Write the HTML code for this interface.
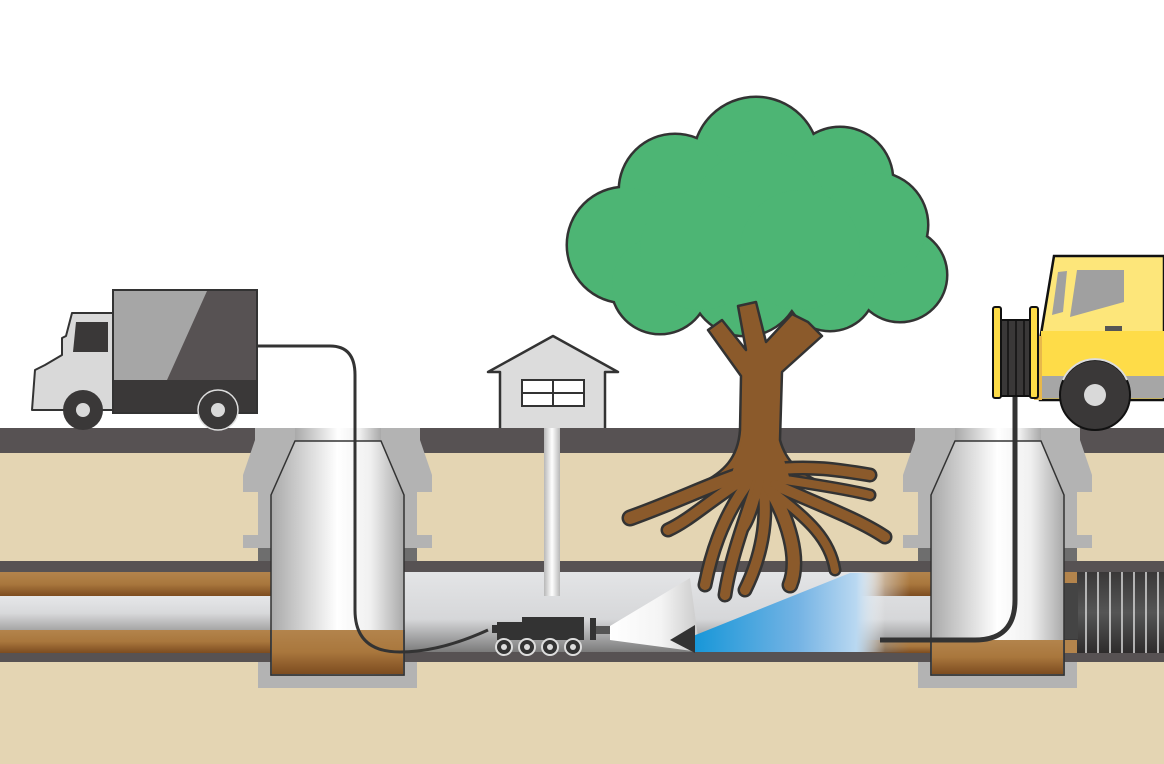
<!DOCTYPE html>
<html><head><meta charset="utf-8"><style>html,body{margin:0;padding:0;background:#fff}svg{display:block}</style></head>
<body>
<svg width="1164" height="764" viewBox="0 0 1164 764" xmlns="http://www.w3.org/2000/svg">
<defs>
<linearGradient id="shaft" x1="0" x2="1" y1="0" y2="0">
<stop offset="0" stop-color="#a9a9a9"/><stop offset="0.5" stop-color="#ffffff"/><stop offset="0.75" stop-color="#f0f0f0"/><stop offset="1" stop-color="#a9a9a9"/></linearGradient>
<linearGradient id="vpipe" x1="0" x2="1"><stop offset="0" stop-color="#b8b8b8"/><stop offset="0.5" stop-color="#fff"/><stop offset="1" stop-color="#b8b8b8"/></linearGradient>
<linearGradient id="brownT" x1="0" x2="0" y1="0" y2="1"><stop offset="0" stop-color="#b3844c"/><stop offset="0.5" stop-color="#a9773d"/><stop offset="1" stop-color="#7d4c20"/></linearGradient>
<linearGradient id="greyP" x1="0" x2="0" y1="0" y2="1"><stop offset="0" stop-color="#e6e7e9"/><stop offset="0.5" stop-color="#d8d9db"/><stop offset="1" stop-color="#a5a5a5"/></linearGradient>
<linearGradient id="center" x1="0" x2="0" y1="570" y2="652" gradientUnits="userSpaceOnUse"><stop offset="0" stop-color="#e4e5e7"/><stop offset="0.6" stop-color="#d6d7d9"/><stop offset="1" stop-color="#7b7b7b"/></linearGradient>
<linearGradient id="blue" x1="692" x2="885" y1="0" y2="0" gradientUnits="userSpaceOnUse"><stop offset="0" stop-color="#1596d8"/><stop offset="0.55" stop-color="#74b3e4"/><stop offset="0.85" stop-color="#b9d8f1"/><stop offset="1" stop-color="#ffffff" stop-opacity="0"/></linearGradient>
<linearGradient id="spray" x1="610" x2="695" y1="0" y2="0" gradientUnits="userSpaceOnUse"><stop offset="0" stop-color="#ffffff"/><stop offset="0.6" stop-color="#f4f4f4"/><stop offset="1" stop-color="#cfcfcf"/></linearGradient>
<linearGradient id="fadeB" x1="860" x2="910" y1="0" y2="0" gradientUnits="userSpaceOnUse"><stop offset="0" stop-color="#fff" stop-opacity="0"/><stop offset="1" stop-color="#fff" stop-opacity="1"/></linearGradient>
<linearGradient id="corr" x1="0" x2="0" y1="572" y2="653" gradientUnits="userSpaceOnUse"><stop offset="0" stop-color="#3a3838"/><stop offset="0.5" stop-color="#555"/><stop offset="1" stop-color="#2e2c2c"/></linearGradient>
<mask id="bm"><rect x="0" y="0" width="1164" height="764" fill="url(#fadeB)"/></mask>
<g id="manhole">
<path d="M255,428 H420 V440 L432,475 V492 H417 V535 H432 V548 H417 V562 H258 V548 H243 V535 H258 V492 H243 V475 L255,440 Z" fill="#b3b3b3"/>
<rect x="258" y="548" width="159" height="14" fill="#6e6e6e"/>
<rect x="258" y="662" width="159" height="26" fill="#b3b3b3"/>
</g>
<g id="shaftg">
<rect x="295" y="428" width="86" height="13" fill="url(#shaft)"/>
<path d="M295,441 H381 L404,495 V675 H271 V495 Z" fill="url(#shaft)" stroke="#333" stroke-width="1.5"/>
</g>
<g id="canopy">
<circle cx="756" cy="160" r="62"/><circle cx="675" cy="190" r="55"/><circle cx="840" cy="180" r="52"/><circle cx="625" cy="245" r="57"/><circle cx="900" cy="275" r="46"/><circle cx="660" cy="285" r="48"/><circle cx="745" cy="280" r="55"/><circle cx="830" cy="285" r="45"/><circle cx="760" cy="220" r="70"/><circle cx="875" cy="225" r="52"/><circle cx="700" cy="250" r="60"/><circle cx="800" cy="250" r="60"/>
</g>
</defs>

<rect x="0" y="428" width="1164" height="336" fill="#e4d5b3"/>
<rect x="0" y="428" width="1164" height="25" fill="#575253"/>

<use href="#manhole"/>
<use href="#manhole" transform="translate(660,0)"/>

<rect x="0" y="561" width="1164" height="11" fill="#575253"/>
<rect x="0" y="652" width="1164" height="10" fill="#575253"/>
<rect x="0" y="572" width="271" height="24" fill="url(#brownT)"/>
<rect x="0" y="596" width="271" height="34" fill="url(#greyP)"/>
<rect x="0" y="630" width="271" height="23" fill="url(#brownT)"/>
<rect x="404" y="572" width="527" height="80" fill="url(#center)"/>
<g mask="url(#bm)">
<rect x="860" y="572" width="71" height="24" fill="url(#brownT)"/>
<rect x="860" y="640" width="71" height="13" fill="url(#brownT)"/>
</g>
<rect x="1064" y="572" width="100" height="81" fill="url(#corr)"/>
<rect x="1064" y="572" width="13" height="12" fill="#b3844c"/>
<rect x="1064" y="640" width="13" height="13" fill="#b3844c"/>
<rect x="1064" y="583" width="14" height="56" fill="#444"/>
<g stroke="#d0d0d0" stroke-width="1.6">
<line x1="1086" y1="572" x2="1086" y2="653"/><line x1="1098" y1="572" x2="1098" y2="653"/><line x1="1110" y1="572" x2="1110" y2="653"/><line x1="1122" y1="572" x2="1122" y2="653"/><line x1="1134" y1="572" x2="1134" y2="653"/><line x1="1146" y1="572" x2="1146" y2="653"/><line x1="1158" y1="572" x2="1158" y2="653"/>
</g>

<use href="#shaftg"/>
<use href="#shaftg" transform="translate(660,0)"/>
<rect x="272" y="630" width="131" height="44" fill="url(#brownT)"/>
<rect x="932" y="640" width="131" height="34" fill="url(#brownT)"/>
<path d="M271,630 V675 H404 V630 M931,640 V675 H1064 V640" fill="none" stroke="#333" stroke-width="1.5"/>

<rect x="544" y="428" width="16" height="168" fill="url(#vpipe)"/>

<path d="M500,428 V372 H488 L553,336 L618,372 H605 V428" fill="#dcdcdc" stroke="#333" stroke-width="2.5" stroke-linejoin="round"/>
<rect x="522" y="380" width="62" height="26" fill="#fff" stroke="#333" stroke-width="2"/>
<line x1="553" y1="380" x2="553" y2="406" stroke="#333" stroke-width="2"/>
<line x1="522" y1="393" x2="584" y2="393" stroke="#333" stroke-width="2"/>

<use href="#canopy" fill="#333" stroke="#333" stroke-width="5"/>
<use href="#canopy" fill="#4db574"/>

<!-- trunk -->
<path d="M700,484 C724,472 738,458 740,430 L741,376 L708,330 L722,320 L746,350 L738,306 L756,302 L766,342 L792,314 L808,322 L822,336 L782,372 L780,440 C786,462 800,474 825,484" fill="#8b5a2b" stroke="#333" stroke-width="2.5" stroke-linejoin="round"/>

<!-- roots -->
<g fill="none" stroke-linecap="round" stroke-linejoin="round">
<g stroke="#333">
<path d="M755,470 C720,480 680,500 630,518" stroke-width="17"/>
<path d="M750,475 C710,500 690,520 668,530" stroke-width="15"/>
<path d="M750,480 C720,520 710,560 705,585" stroke-width="15"/>
<path d="M758,480 C745,520 730,560 725,595" stroke-width="15"/>
<path d="M762,480 C770,520 760,560 745,590" stroke-width="15"/>
<path d="M765,480 C790,520 800,560 790,585" stroke-width="17"/>
<path d="M770,470 C810,465 840,470 870,475" stroke-width="15"/>
<path d="M772,478 C820,485 850,490 870,495" stroke-width="13"/>
<path d="M775,485 C820,505 860,520 885,537" stroke-width="15"/>
<path d="M770,490 C810,520 830,540 835,570" stroke-width="13"/>
<path d="M760,480 C755,500 750,520 742,530" stroke-width="13"/>
</g>
<g stroke="#8b5a2b">
<path d="M755,470 C720,480 680,500 630,518" stroke-width="12"/>
<path d="M750,475 C710,500 690,520 668,530" stroke-width="10"/>
<path d="M750,480 C720,520 710,560 705,585" stroke-width="10"/>
<path d="M758,480 C745,520 730,560 725,595" stroke-width="10"/>
<path d="M762,480 C770,520 760,560 745,590" stroke-width="10"/>
<path d="M765,480 C790,520 800,560 790,585" stroke-width="12"/>
<path d="M770,470 C810,465 840,470 870,475" stroke-width="10"/>
<path d="M772,478 C820,485 850,490 870,495" stroke-width="8"/>
<path d="M775,485 C820,505 860,520 885,537" stroke-width="10"/>
<path d="M770,490 C810,520 830,540 835,570" stroke-width="8"/>
<path d="M760,480 C755,500 750,520 742,530" stroke-width="8"/>
</g>
</g>
<path d="M742,440 L778,440 L790,480 L730,480 Z" fill="#8b5a2b"/>

<path d="M610,626 L690,578 L700,652 L610,640 Z" fill="url(#spray)"/>
<path d="M693,636 L850,573 L885,573 L885,652 L693,652 Z" fill="url(#blue)"/>
<path d="M670,640 L695,625 L695,653 Z" fill="#333"/>

<path d="M258,346 H330 Q355,346 355,375 V610 Q355,652 400,652 Q440,652 488,630" fill="none" stroke="#333" stroke-width="3"/>
<path d="M1015,395 V600 Q1015,640 975,640 H880" fill="none" stroke="#333" stroke-width="5"/>

<rect x="492" y="625" width="5" height="8" fill="#333"/>
<path d="M497,622 H522 V617 H584 V640 H497 Z" fill="#333"/>
<rect x="590" y="618" width="6" height="22" fill="#333"/>
<rect x="596" y="626" width="14" height="8" fill="#555"/>
<g fill="#333" stroke="#ddd" stroke-width="2">
<circle cx="504" cy="647" r="8"/><circle cx="527" cy="647" r="8"/><circle cx="550" cy="647" r="8"/><circle cx="573" cy="647" r="8"/>
</g>
<g fill="#ddd"><circle cx="504" cy="647" r="3"/><circle cx="527" cy="647" r="3"/><circle cx="550" cy="647" r="3"/><circle cx="573" cy="647" r="3"/></g>

<rect x="113" y="290" width="144" height="123" fill="#575253" stroke="#333" stroke-width="2"/>
<path d="M114,291 H207 L167,380 H114 Z" fill="#a6a6a6"/>
<rect x="114" y="380" width="142" height="32" fill="#3a3838"/>
<path d="M72,313 H113 V410 H32 L35,370 L45,365 L62,355 L62,338 L66,336 Z" fill="#d9d9d9" stroke="#333" stroke-width="2" stroke-linejoin="round"/>
<path d="M76,322 H108 V352 H73 Z" fill="#3a3838"/>
<circle cx="83" cy="410" r="20" fill="#3a3838"/><circle cx="83" cy="410" r="7" fill="#d9d9d9"/>
<circle cx="218" cy="410" r="20" fill="#3a3838" stroke="#ddd" stroke-width="1.5"/><circle cx="218" cy="410" r="7" fill="#d9d9d9"/>

<path d="M1054,256 H1164 V400 H1040 V340 Z" fill="#fde67a" stroke="#111" stroke-width="2.5"/>
<rect x="1041" y="331" width="123" height="45" fill="#fedc48"/>
<rect x="1041" y="376" width="123" height="22" fill="#a6a6a6"/>
<path d="M1058,272 L1067,271 L1063,312 L1052,315 Z" fill="#a0a0a0"/>
<path d="M1077,270 H1124 V302 L1070,317 Z" fill="#a0a0a0"/>
<rect x="1105" y="326" width="17" height="5" fill="#555"/>
<rect x="1034" y="336" width="8" height="64" fill="#e8b84a"/>
<circle cx="1095" cy="395" r="35" fill="#3a3838" stroke="#111" stroke-width="2"/>
<path d="M1063,380 A35,35 0 0 1 1127,380" fill="none" stroke="#ddd" stroke-width="2"/>
<circle cx="1095" cy="395" r="11" fill="#d9d9d9"/>
<rect x="1000" y="320" width="31" height="76" fill="#3a3838" stroke="#111" stroke-width="2"/>
<g stroke="#111" stroke-width="1.5"><line x1="1008" y1="320" x2="1008" y2="396"/><line x1="1016" y1="320" x2="1016" y2="396"/><line x1="1024" y1="320" x2="1024" y2="396"/></g>
<rect x="993" y="307" width="8" height="91" rx="2" fill="#fedc48" stroke="#111" stroke-width="2"/>
<rect x="1030" y="307" width="8" height="91" rx="2" fill="#fedc48" stroke="#111" stroke-width="2"/>
</svg>
</body></html>
